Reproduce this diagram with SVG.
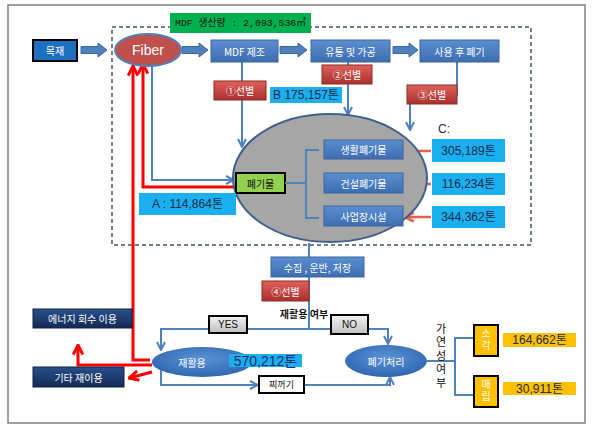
<svg xmlns="http://www.w3.org/2000/svg" width="594" height="430" viewBox="0 0 594 430">
<defs>
<linearGradient id="gBlue" x1="0" y1="0" x2="0" y2="1"><stop offset="0" stop-color="#5b8fd2"/><stop offset="1" stop-color="#3d6db0"/></linearGradient>
<linearGradient id="gRed" x1="0" y1="0" x2="0" y2="1"><stop offset="0" stop-color="#e0605a"/><stop offset="1" stop-color="#a8302c"/></linearGradient>
<linearGradient id="gNavy" x1="0" y1="0" x2="0" y2="1"><stop offset="0" stop-color="#2a4f8a"/><stop offset="1" stop-color="#122a55"/></linearGradient>
<linearGradient id="gGray" x1="0" y1="0" x2="0" y2="1"><stop offset="0" stop-color="#f2f2f2"/><stop offset="1" stop-color="#bfbfbf"/></linearGradient>
<radialGradient id="gEl" cx="0.5" cy="0.4" r="0.6"><stop offset="0" stop-color="#5b93d6"/><stop offset="1" stop-color="#2f66b0"/></radialGradient>
<marker id="aB" viewBox="0 0 10 10" refX="9" refY="5" markerWidth="10" markerHeight="10" markerUnits="userSpaceOnUse" orient="auto"><path d="M1,1 L9,5 L1,9" fill="none" stroke="#4f81bd" stroke-width="2"/></marker>
<marker id="aR" viewBox="0 0 10 10" refX="9" refY="5" markerWidth="12" markerHeight="12" markerUnits="userSpaceOnUse" orient="auto"><path d="M1,1 L9,5 L1,9" fill="none" stroke="#ff0000" stroke-width="2.5"/></marker>
<marker id="aC" viewBox="0 0 10 10" refX="9" refY="5" markerWidth="11" markerHeight="11" markerUnits="userSpaceOnUse" orient="auto"><path d="M1,1 L9,5 L1,9" fill="none" stroke="#e2604c" stroke-width="2.5"/></marker>
</defs>
<style>
text{font-family:"Noto Sans CJK KR","Liberation Sans",sans-serif;text-anchor:middle;dominant-baseline:central}
.w{fill:#fff;font-size:10px}
.k{fill:#111;font-size:10px}
.bb{fill:url(#gBlue);stroke:#3a64a0;stroke-width:1}
.rb{fill:url(#gRed);stroke:#8c2a27;stroke-width:1}
.nb{fill:url(#gNavy);stroke:#0e2247;stroke-width:1}
.cy{fill:#1ab0ef}
.ye{fill:#ffc000}
.ln{fill:none;stroke:#4f81bd;stroke-width:2}
.rl{fill:none;stroke:#ff0000;stroke-width:3}
.cl{fill:none;stroke:#e2604c;stroke-width:2.5}
.ba{fill:#4f81bd;stroke:#3a64a0;stroke-width:1}
.num{fill:#1a2a4a;font-size:12px;font-family:"Liberation Sans","Noto Sans CJK KR",sans-serif}
</style>
<rect x="8" y="5" width="577" height="418" fill="#fff" stroke="#808080" stroke-width="1.5"/>
<rect x="112" y="27" width="419" height="218" fill="none" stroke="#44546a" stroke-width="1.5" stroke-dasharray="4,3"/>

<g id="connectors">
<polygon class="ba" points="81,46.5 98,46.5 98,43 107,50 98,57 98,53.5 81,53.5"/>
<polygon class="ba" points="182,46.5 199,46.5 199,43 208,50 199,57 199,53.5 182,53.5"/>
<polygon class="ba" points="280,46.5 298,46.5 298,43 307,50 298,57 298,53.5 280,53.5"/>
<polygon class="ba" points="393,46.5 409,46.5 409,43 418,50 409,57 409,53.5 393,53.5"/>
<line class="ln" x1="242" y1="62" x2="242" y2="147" marker-end="url(#aB)"/>
<line class="ln" x1="348" y1="62" x2="348" y2="115" marker-end="url(#aB)"/>
<line class="ln" x1="457" y1="62" x2="457" y2="96"/>
<line class="ln" x1="410" y1="104" x2="410" y2="130" marker-end="url(#aB)"/>
<polyline class="ln" points="152,66 152,180 234,180" marker-end="url(#aB)"/>
<polyline class="rl" points="236,187 143,187 143,64" marker-end="url(#aR)"/>
<polyline class="rl" points="150,360 133,360 133,66" marker-end="url(#aR)"/>
<polyline class="rl" points="152,365 78,365 78,345" marker-end="url(#aR)"/>
<line class="rl" x1="152" y1="372" x2="129" y2="378" marker-end="url(#aR)"/>
<line class="cl" x1="431" y1="151" x2="405" y2="151" marker-end="url(#aC)"/>
<line class="cl" x1="431" y1="184" x2="405" y2="184" marker-end="url(#aC)"/>
<line class="cl" x1="431" y1="217" x2="405" y2="217" marker-end="url(#aC)"/>
<line class="ln" x1="309" y1="243" x2="309" y2="329"/>
<polyline class="ln" points="161,350 161,329 388,329 388,344" marker-end="url(#aB)"/>
<line class="ln" x1="161" y1="329" x2="161" y2="350" marker-end="url(#aB)"/>
<polyline class="ln" points="161,362 161,385 258,385" marker-end="url(#aB)"/>
<polyline class="ln" points="304,385 390,385 390,377" marker-end="url(#aB)"/>
<polyline class="ln" points="427,361 455,361"/>
<polyline class="ln" points="474,338 455,338 455,395 474,395"/>
</g>

<g id="mdf-output"><rect x="170" y="13" width="141" height="20" fill="#00b050"/><text x="240.5" y="23" class="k" style="font-family:'Liberation Mono','Noto Sans CJK KR',monospace;font-size:9.8px">MDF 생산량 : 2,093,536㎥</text></g>
<g id="wood"><rect x="33" y="40" width="44" height="21" fill="#1f6fc0" stroke="#000" stroke-width="2"/><text x="55" y="50.5" class="w">목재</text></g>
<g id="fiber"><ellipse cx="148" cy="50" rx="33" ry="16" fill="#c0504d" stroke="#4f81bd" stroke-width="2"/><text x="148" y="50" class="w" style="font-size:14px;font-family:'Liberation Sans',sans-serif">Fiber</text></g>
<g id="mdf"><rect class="bb" x="211" y="40" width="67" height="22"/><text x="244.5" y="51" class="w">MDF 제조</text></g>
<g id="dist"><rect class="bb" x="311" y="40" width="79" height="22"/><text x="350.5" y="51" class="w">유통 및 가공</text></g>
<g id="disposal"><rect class="bb" x="420" y="40" width="79" height="22"/><text x="459.5" y="51" class="w">사용 후 폐기</text></g>
<g id="sel1"><rect class="rb" x="214" y="81" width="52" height="19"/><text x="240" y="90.5" class="w">①선별</text></g>
<g id="sel2"><rect class="rb" x="322" y="65" width="50" height="19"/><text x="347" y="74.5" class="w">②선별</text></g>
<g id="sel3"><rect class="rb" x="407" y="85" width="50" height="19"/><text x="432" y="94.5" class="w">③선별</text></g>
<g id="b-val"><rect class="cy" x="270" y="87" width="72" height="16"/><text x="306" y="95" class="num">B 175,157톤</text></g>
<g id="c-label"><text x="444" y="129" class="num" style="font-size:12px">C:</text></g>

<g id="waste-pool"><ellipse cx="330" cy="178" rx="97" ry="64" fill="#a6a6a6" stroke="#3f5f8f" stroke-width="2"/></g>
<g id="waste"><rect x="236" y="173" width="49" height="20" fill="#92d050" stroke="#000" stroke-width="2"/><text x="260.5" y="183" class="k">폐기물</text></g>
<g id="bracket1"><polyline class="ln" points="285,183 306,183"/><polyline class="ln" points="319,150 306,150 306,218 319,218"/></g>
<g id="household"><rect class="bb" x="324" y="140" width="79" height="19" stroke="#2c4f80" stroke-width="1.5"/><text x="363.5" y="149.5" class="w">생활폐기물</text></g>
<g id="construction"><rect class="bb" x="324" y="173" width="79" height="20" stroke="#2c4f80" stroke-width="1.5"/><text x="363.5" y="183" class="w">건설폐기물</text></g>
<g id="business"><rect class="bb" x="324" y="206" width="79" height="20" stroke="#2c4f80" stroke-width="1.5"/><text x="363.5" y="216" class="w">사업장시설</text></g>
<g id="c1"><rect class="cy" x="432" y="139" width="73" height="23"/><text x="468.5" y="150.5" class="num">305,189톤</text></g>
<g id="c2"><rect class="cy" x="432" y="173" width="73" height="22"/><text x="468.5" y="184" class="num">116,234톤</text></g>
<g id="c3"><rect class="cy" x="432" y="206" width="73" height="22"/><text x="468.5" y="217" class="num">344,362톤</text></g>
<g id="a-val"><rect class="cy" x="139" y="193" width="97" height="22"/><text x="187.5" y="204" class="num">A :  114,864톤</text></g>

<g id="collect"><rect class="bb" x="271" y="257" width="93" height="20"/><text x="317.5" y="267" class="w">수집 , 운반, 저장</text></g>
<g id="sel4"><rect class="rb" x="262" y="281" width="47" height="20"/><text x="285.5" y="291" class="w">④선별</text></g>
<g id="recycle-q"><text x="304" y="313" class="k" style="font-weight:bold">재활용 여부</text></g>
<g id="yes"><rect x="209" y="316" width="38" height="17" fill="url(#gGray)" stroke="#000" stroke-width="2"/><text x="228" y="324.5" class="k" style="font-family:'Liberation Sans',sans-serif">YES</text></g>
<g id="no"><rect x="331" y="315" width="37" height="19" fill="url(#gGray)" stroke="#000" stroke-width="2"/><text x="349.5" y="324.5" class="k" style="font-family:'Liberation Sans',sans-serif">NO</text></g>
<g id="recycle"><ellipse cx="202" cy="362" rx="50" ry="15" fill="url(#gEl)"/><text x="192" y="362" class="w">재활용</text></g>
<g id="recycle-val"><rect class="cy" x="229" y="354" width="73" height="13"/><text x="265.5" y="360.5" style="fill:#1a2a6a;font-size:14px;font-family:'Liberation Sans','Noto Sans CJK KR',sans-serif">570,212톤</text></g>
<g id="residue"><rect x="259" y="376" width="45" height="17" fill="#fff" stroke="#000" stroke-width="2"/><text x="281.5" y="384.5" class="k" style="font-size:9px">찌꺼기</text></g>
<g id="treatment"><ellipse cx="386" cy="361" rx="41" ry="16" fill="url(#gEl)"/><text x="386" y="361" class="w">폐기처리</text></g>
<g id="energy"><rect class="nb" x="33" y="309" width="99" height="19"/><text x="82.5" y="318.5" class="w">에너지 회수 이용</text></g>
<g id="reuse"><rect class="nb" x="33" y="367" width="91" height="20"/><text x="78.5" y="377" class="w">기타 재이용</text></g>
<g id="combust-q"><text x="441" y="357" class="k" style="font-size:11px;writing-mode:vertical-rl;letter-spacing:2.5px">가연성여부</text></g>
<g id="incin"><rect class="ye" x="474" y="325" width="24" height="31" stroke="#000" stroke-width="2"/><text x="486" y="340.5" class="w" style="writing-mode:vertical-rl;letter-spacing:2px">소각</text></g>
<g id="landfill"><rect class="ye" x="474" y="376" width="24" height="31" stroke="#000" stroke-width="2"/><text x="486" y="391.5" class="w" style="writing-mode:vertical-rl;letter-spacing:2px">매립</text></g>
<g id="incin-val"><rect class="ye" x="503" y="333" width="73" height="14"/><text x="539.5" y="340" class="num">164,662톤</text></g>
<g id="landfill-val"><rect class="ye" x="503" y="382" width="73" height="13"/><text x="539.5" y="388.5" class="num">30,911톤</text></g>
</svg>
